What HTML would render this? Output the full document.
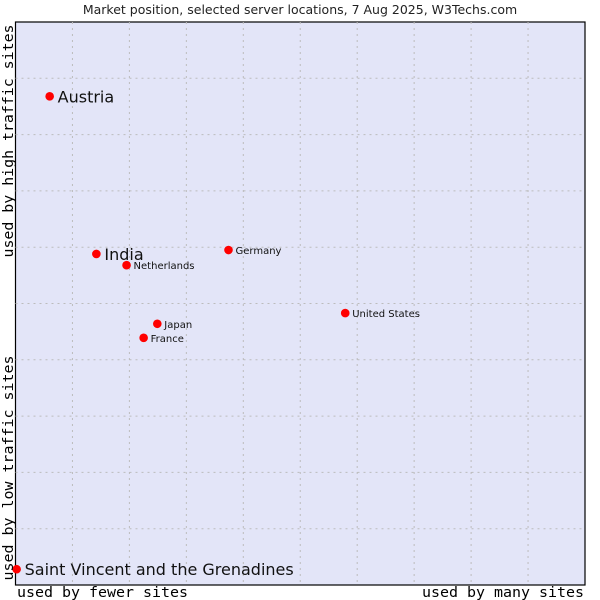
<!DOCTYPE html>
<html><head><meta charset="utf-8"><style>
html,body{margin:0;padding:0;background:#fff}
svg{display:block}
</style></head><body>
<svg id="chart" width="600" height="600" xmlns="http://www.w3.org/2000/svg">
<text x="300" y="14" text-anchor="middle" font-family="DejaVu Sans, sans-serif" font-size="12.5" fill="#222">Market position, selected server locations, 7 Aug 2025, W3Techs.com</text>
<rect x="15.5" y="22" width="569.5" height="563" fill="#e3e5f8" stroke="#000" stroke-width="1.2"/>
<g id="grid"></g>
<g id="points"></g>
<text transform="translate(13,141) rotate(-90)" text-anchor="middle" font-family="DejaVu Sans Mono, Liberation Mono, monospace" font-size="14" textLength="233" lengthAdjust="spacingAndGlyphs" fill="#000">used by high traffic sites</text>
<text transform="translate(13,468) rotate(-90)" text-anchor="middle" font-family="DejaVu Sans Mono, Liberation Mono, monospace" font-size="14" textLength="225" lengthAdjust="spacingAndGlyphs" fill="#000">used by low traffic sites</text>
<text x="17" y="597" font-family="DejaVu Sans Mono, Liberation Mono, monospace" font-size="14" textLength="171" lengthAdjust="spacingAndGlyphs" fill="#000">used by fewer sites</text>
<text x="584" y="597" text-anchor="end" font-family="DejaVu Sans Mono, Liberation Mono, monospace" font-size="14" textLength="162" lengthAdjust="spacingAndGlyphs" fill="#000">used by many sites</text>
</svg>
<script>
const countries = ["Austria","India","Netherlands","Germany","United States","Japan","France","Saint Vincent and the Grenadines"];
const xValues = [6.0,14.2,19.5,37.4,57.9,24.9,22.5,0.2];
const yValues = [86.8,58.8,56.8,59.5,48.3,46.4,43.9,2.8];
const highlighted = [true,true,false,false,false,false,false,true];
const gridTicks = [1,2,3,4,5,6,7,8,9];

const X0=15.5,X1=585,Y0=585,Y1=22;
function xs(v){return X0+(X1-X0)*v/100;}
function ys(v){return Y0-(Y0-Y1)*v/100;}
const NS="http://www.w3.org/2000/svg";
const grid=document.getElementById('grid');
gridTicks.forEach(t=>{
  const v=document.createElementNS(NS,'line');
  
  
  const x=xs(t*10);
  v.setAttribute('x1',x);v.setAttribute('x2',x);v.setAttribute('y1',Y1);v.setAttribute('y2',Y0);
  v.setAttribute('stroke','#bcbcbc');v.setAttribute('stroke-dasharray','2,4');
  grid.appendChild(v);
  const h=document.createElementNS(NS,'line');
  
  
  const y=ys(t*10);
  h.setAttribute('x1',X0);h.setAttribute('x2',X1);h.setAttribute('y1',y);h.setAttribute('y2',y);
  h.setAttribute('stroke','#bcbcbc');h.setAttribute('stroke-dasharray','2,4');
  grid.appendChild(h);
});
const pts=document.getElementById('points');
countries.forEach((c,i)=>{
  const x=xs(xValues[i]),y=ys(yValues[i]);
  const p=document.createElementNS(NS,'circle');
  
  
  p.setAttribute('cx',x);p.setAttribute('cy',y);p.setAttribute('r','4.3');
  p.setAttribute('fill','#ff0000');
  pts.appendChild(p);
  const t=document.createElementNS(NS,'text');
  
  
  const big=highlighted[i];
  t.setAttribute('x',x+(big?8:7));
  t.setAttribute('y',y+(big?6:4));
  t.setAttribute('font-family','DejaVu Sans, sans-serif');
  t.setAttribute('font-size',big?'16':'10');
  t.setAttribute('fill','#111');
  t.textContent=c;
  pts.appendChild(t);
});
</script>
</body></html>
